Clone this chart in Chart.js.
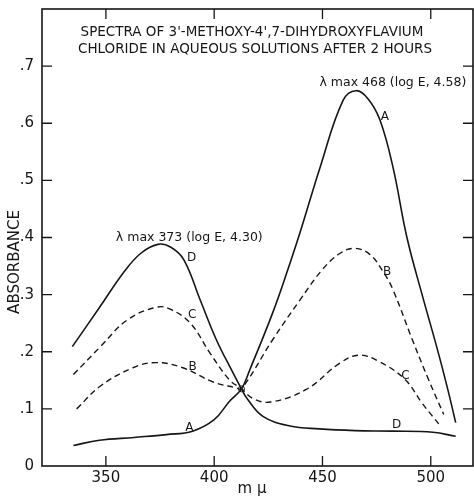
<!DOCTYPE html>
<html>
<head>
<meta charset="utf-8">
<script src="https://cdn.jsdelivr.net/npm/chart.js@4.4.1/dist/chart.umd.min.js"></script>
<style>
  html, body { margin: 0; padding: 0; background: #fff; }
  #wrap { width: 474px; height: 497px; }
</style>
</head>
<body>
<div id="wrap"><canvas id="chart" width="474" height="497"></canvas></div>
<script>
/* ---------- data ---------- */
const xTicks = [350, 400, 450, 500];
const yTicks = [0, 0.1, 0.2, 0.3, 0.4, 0.5, 0.6, 0.7];

// curve A (solid)
const nmA  = [335, 347, 363, 378, 390, 400, 407, 412.6, 416.5, 427, 435, 440, 449, 459.5, 465.5, 471, 476.5, 482.5, 489, 496, 503, 508, 511.5];
const absA = [0.036, 0.045, 0.050, 0.055, 0.061, 0.081, 0.113, 0.135, 0.169, 0.268, 0.355, 0.413, 0.524, 0.640, 0.657, 0.643, 0.606, 0.524, 0.400, 0.300, 0.205, 0.132, 0.076];

// curve B (dashed)
const nmB  = [336.5, 347.5, 362.5, 373, 385.5, 399.5, 410, 412.6, 427, 439.5, 450, 458, 465, 472, 478, 482.5, 491.5, 499, 506];
const absB = [0.100, 0.140, 0.172, 0.181, 0.172, 0.147, 0.137, 0.135, 0.221, 0.290, 0.344, 0.372, 0.381, 0.370, 0.340, 0.309, 0.221, 0.151, 0.090];

// curve C (dashed)
const nmC  = [335, 347.5, 360, 373.5, 380, 389, 398, 407, 412.6, 418, 426, 442.5, 458, 467, 476, 488, 496, 504.5];
const absC = [0.160, 0.209, 0.256, 0.278, 0.274, 0.250, 0.198, 0.151, 0.135, 0.118, 0.112, 0.134, 0.180, 0.194, 0.183, 0.152, 0.110, 0.070];

// curve D (solid)
const nmD  = [334.5, 347.5, 358, 366, 374, 380, 386, 393.5, 401, 408.7, 412.6, 415, 422.5, 435, 448.5, 465, 482.5, 501, 511.5];
const absD = [0.209, 0.280, 0.338, 0.372, 0.388, 0.383, 0.361, 0.291, 0.221, 0.163, 0.135, 0.119, 0.087, 0.070, 0.065, 0.062, 0.061, 0.059, 0.052];

// isosbestic point
const isoNm  = [412.6];
const isoAbs = [0.135];

const titleLines = [
  "SPECTRA OF 3'-METHOXY-4',7-DIHYDROXYFLAVIUM",
  "CHLORIDE IN AQUEOUS SOLUTIONS AFTER 2 HOURS"
];

/* ---------- text placed in data coords ---------- */
const curveLabels = [
  { t: "D", x: 389.6, y: 0.364 }, { t: "C", x: 389.8, y: 0.264 },
  { t: "B", x: 390.0, y: 0.174 }, { t: "A", x: 388.5, y: 0.067 },
  { t: "A", x: 478.8, y: 0.612 }, { t: "B", x: 479.9, y: 0.340 },
  { t: "C", x: 488.3, y: 0.158 }, { t: "D", x: 484.2, y: 0.072 }
];
const maxLabels = [
  { t: "\u03bb max 373 (log E, 4.30)", x: 388.5, y: 0.399 },
  { t: "\u03bb max 468 (log E, 4.58)", x: 482.5, y: 0.671 }
];

const pts = (xs, ys) => xs.map((x, i) => ({ x, y: ys[i] }));
const INK = "#161616";
const FONT = "'DejaVu Sans', sans-serif";

/* ---------- frame, inward ticks and text ---------- */
const framePlugin = {
  id: "frame",
  afterDraw(chart) {
    const { ctx, chartArea: a, scales } = chart;
    const xs = scales.x, ys = scales.y;
    ctx.save();
    ctx.strokeStyle = INK;
    ctx.lineWidth = 1.6;
    ctx.strokeRect(a.left, a.top, a.right - a.left, a.bottom - a.top);

    const tl = 10;
    ctx.lineWidth = 1.3;
    ctx.beginPath();
    xTicks.forEach(v => {
      const px = xs.getPixelForValue(v);
      ctx.moveTo(px, a.bottom); ctx.lineTo(px, a.bottom - tl);
      ctx.moveTo(px, a.top);    ctx.lineTo(px, a.top + tl);
    });
    yTicks.forEach(v => {
      if (v === 0) return;
      const py = ys.getPixelForValue(v);
      ctx.moveTo(a.left, py);  ctx.lineTo(a.left + tl, py);
      ctx.moveTo(a.right, py); ctx.lineTo(a.right - tl, py);
    });
    ctx.stroke();

    ctx.fillStyle = INK;
    ctx.textAlign = "center";
    ctx.textBaseline = "middle";

    // title
    ctx.font = "13.5px " + FONT;
    ctx.fillText(titleLines[0], 252, 32);
    ctx.fillText(titleLines[1], 255, 49);

    // lambda max notes
    ctx.font = "12.5px " + FONT;
    maxLabels.forEach(l => ctx.fillText(l.t, xs.getPixelForValue(l.x), ys.getPixelForValue(l.y)));

    // curve letters
    ctx.font = "12px " + FONT;
    curveLabels.forEach(l => ctx.fillText(l.t, xs.getPixelForValue(l.x), ys.getPixelForValue(l.y)));

    // axis titles
    ctx.font = "15px " + FONT;
    ctx.fillText("m \u03bc", 252, 489);
    ctx.translate(15, 262);
    ctx.rotate(-Math.PI / 2);
    ctx.fillText("ABSORBANCE", 0, 0);
    ctx.restore();
  }
};

const solid = (label, data) => ({
  label, data, borderColor: INK, borderWidth: 1.6, pointRadius: 0,
  tension: 0.4, fill: false
});
const dashed = (label, data) => Object.assign(solid(label, data), { borderDash: [6, 4], borderWidth: 1.4 });

new Chart(document.getElementById("chart"), {
  type: "line",
  data: {
    datasets: [
      {
        label: "iso", data: pts(isoNm, isoAbs), showLine: false,
        pointRadius: 3, pointBorderWidth: 1, pointBorderColor: INK,
        pointBackgroundColor: "rgba(255,255,255,0)"
      },
      solid("A", pts(nmA, absA)),
      dashed("B", pts(nmB, absB)),
      dashed("C", pts(nmC, absC)),
      solid("D", pts(nmD, absD))
    ]
  },
  options: {
    responsive: false,
    animation: false,
    devicePixelRatio: 1,
    layout: { autoPadding: false, padding: { top: 9, right: 1, left: 0, bottom: 0 } },
    plugins: { legend: { display: false }, tooltip: { enabled: false } },
    scales: {
      x: {
        type: "linear", min: 320.5, max: 519.5,
        afterBuildTicks: s => { s.ticks = xTicks.map(v => ({ value: v })); },
        afterFit: s => { s.height = 31; s.paddingLeft = 0; s.paddingRight = 0; },
        grid: { display: false, drawTicks: false },
        border: { display: false },
        ticks: { color: INK, font: { family: FONT, size: 15 }, padding: 3, maxRotation: 0 }
      },
      y: {
        min: 0, max: 0.8,
        afterBuildTicks: s => { s.ticks = yTicks.map(v => ({ value: v })); },
        afterFit: s => { s.width = 42; s.paddingTop = 0; s.paddingBottom = 0; },
        grid: { display: false, drawTicks: false },
        border: { display: false },
        ticks: {
          color: INK, font: { family: FONT, size: 15 }, padding: 8,
          callback: v => v === 0 ? "0" : "." + Math.round(v * 10)
        }
      }
    }
  },
  plugins: [framePlugin]
});
</script>
</body>
</html>
